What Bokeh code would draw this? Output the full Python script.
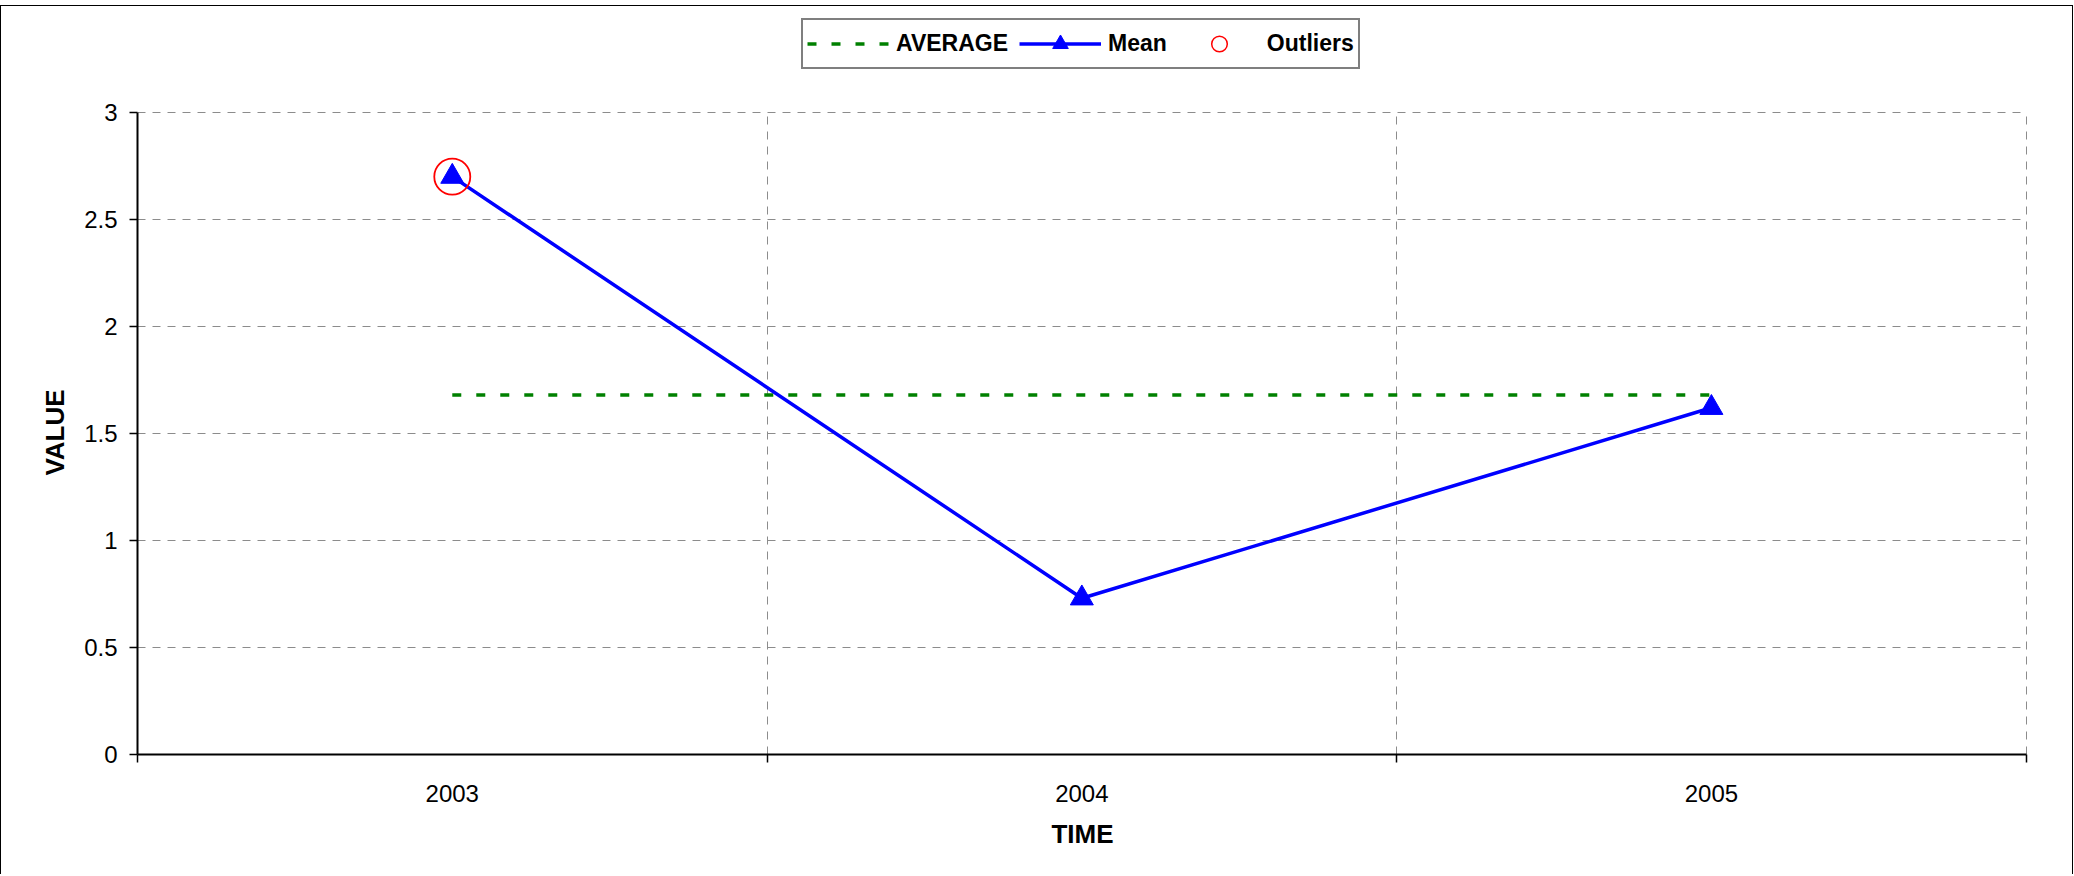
from bokeh.plotting import figure
from bokeh.layouts import column
from bokeh.models import (Range1d, FixedTicker, NumeralTickFormatter, Legend,
                          LegendItem, ColumnDataSource)
from bokeh.embed import file_html
from bokeh.resources import INLINE

# ---- data ----
years = ["2003", "2004", "2005"]
mean_values = [2.70, 0.73, 1.62]
average_value = 1.68
outlier_years = ["2003"]
outlier_values = [2.70]
y_ticks = [0, 0.5, 1, 1.5, 2, 2.5, 3]
y_max = 3

FONT = "Liberation Sans"

# ---- styles ----
AVG_STYLE = dict(line_color="#008000", line_width=3.5, line_dash="9 15")
MEAN_LINE_STYLE = dict(line_color="#0000FF", line_width=3.5)
MEAN_PT_STYLE = dict(marker="triangle", size=23, fill_color="#0000FF",
                     line_color="#0000FF")
OUT_STYLE = dict(marker="circle", size=36, fill_color=None, line_color="#FF0000",
                 line_width=1.8)

W = 2071
LEG_H = 90
MAIN_H = 778
BORDER_L, BORDER_R, BORDER_T, BORDER_B = 136, 45, 14, 120

pos = {y: i + 0.5 for i, y in enumerate(years)}
mean_src = ColumnDataSource(dict(x=[pos[y] for y in years], y=mean_values))
avg_src = ColumnDataSource(dict(x=[pos[years[0]], pos[years[-1]]],
                                y=[average_value, average_value]))
out_src = ColumnDataSource(dict(x=[pos[y] for y in outlier_years], y=outlier_values))

# ---------------- main chart ----------------
p = figure(width=W, height=MAIN_H, output_backend="svg", toolbar_location=None,
           x_range=Range1d(0, len(years) * 1.0007), y_range=Range1d(0, y_max * 1.003),
           min_border_left=BORDER_L, min_border_right=BORDER_R,
           min_border_top=BORDER_T, min_border_bottom=BORDER_B)
p.outline_line_color = None
p.background_fill_color = "white"
p.border_fill_color = "white"

xa = p.xaxis[0]
xa.ticker = FixedTicker(ticks=[pos[y] for y in years],
                        minor_ticks=list(range(len(years) + 1)))
xa.major_label_overrides = {pos[y]: y for y in years}
xa.bounds = (0, len(years))
xa.major_tick_out = 0
xa.major_tick_in = 0
xa.minor_tick_out = 8
xa.minor_tick_in = 0
xa.minor_tick_line_color = "black"
xa.minor_tick_line_width = 1.5
xa.axis_line_width = 2
xa.axis_line_color = "black"
xa.major_label_standoff = 22
xa.major_label_text_font = FONT
xa.major_label_text_font_size = "24px"
xa.major_label_text_color = "black"
xa.axis_label = "TIME"
xa.axis_label_text_font = FONT
xa.axis_label_text_font_style = "bold"
xa.axis_label_text_font_size = "26px"
xa.axis_label_text_color = "black"
xa.axis_label_standoff = 14

ya = p.yaxis[0]
ya.ticker = FixedTicker(ticks=y_ticks)
ya.formatter = NumeralTickFormatter(format="0.[0]")
ya.bounds = (0, y_max)
ya.major_tick_out = 8
ya.major_tick_in = 0
ya.major_tick_line_width = 1.5
ya.major_tick_line_color = "black"
ya.minor_tick_line_color = None
ya.axis_line_width = 2
ya.axis_line_color = "black"
ya.major_label_standoff = 12
ya.major_label_text_font = FONT
ya.major_label_text_font_size = "24px"
ya.major_label_text_color = "black"
ya.axis_label = "VALUE"
ya.axis_label_text_font = FONT
ya.axis_label_text_font_style = "bold"
ya.axis_label_text_font_size = "26px"
ya.axis_label_text_color = "black"
ya.axis_label_standoff = 11

p.xgrid.ticker = FixedTicker(ticks=list(range(1, len(years) + 1)))
for g in (p.xgrid[0], p.ygrid[0]):
    g.grid_line_color = "#8c8c8c"
    g.grid_line_dash = "8 7"
    g.grid_line_width = 1

p.line("x", "y", source=avg_src, **AVG_STYLE)
p.line("x", "y", source=mean_src, **MEAN_LINE_STYLE)
p.scatter("x", "y", source=mean_src, **MEAN_PT_STYLE)
p.scatter("x", "y", source=out_src, **OUT_STYLE)

# ---------------- legend strip above the chart ----------------
# Same series drawn again, but this strip's value range lies outside the data,
# so only the legend entries show.
lf = figure(width=W, height=LEG_H, output_backend="svg", toolbar_location=None,
            x_range=Range1d(0, len(years)), y_range=Range1d(-2 * y_max, -y_max),
            x_axis_type=None, y_axis_type=None, min_border=0,
            min_border_left=BORDER_L, min_border_right=BORDER_R,
            min_border_top=0, min_border_bottom=0)
lf.outline_line_color = None
lf.grid.visible = False
lf.background_fill_color = "white"
lf.border_fill_color = "white"
l_avg = lf.line("x", "y", source=avg_src, **AVG_STYLE)
l_mline = lf.line("x", "y", source=mean_src, **MEAN_LINE_STYLE)
l_mpts = lf.scatter("x", "y", source=mean_src, **MEAN_PT_STYLE)
l_out = lf.scatter("x", "y", source=out_src, **dict(OUT_STYLE, line_width=1.5))

legend = Legend(items=[LegendItem(label="AVERAGE", renderers=[l_avg]),
                       LegendItem(label="Mean", renderers=[l_mline, l_mpts]),
                       LegendItem(label="Outliers", renderers=[l_out])],
                orientation="horizontal", location=(664, LEG_H - 63), margin=0,
                glyph_width=82, glyph_height=39, padding=4, spacing=11,
                label_standoff=7, label_text_font=FONT,
                label_text_font_style="bold", label_text_font_size="23px",
                label_text_color="black",
                border_line_color="black", border_line_width=2,
                background_fill_color="white", background_fill_alpha=1.0)
lf.add_layout(legend, "center")

page = column(lf, p, spacing=0)
page.styles = {"border-left": "1px solid black", "border-top": "1px solid black",
               "border-right": "1px solid black", "margin-top": "5px"}

open("out.html", "w").write(file_html(page, INLINE))
